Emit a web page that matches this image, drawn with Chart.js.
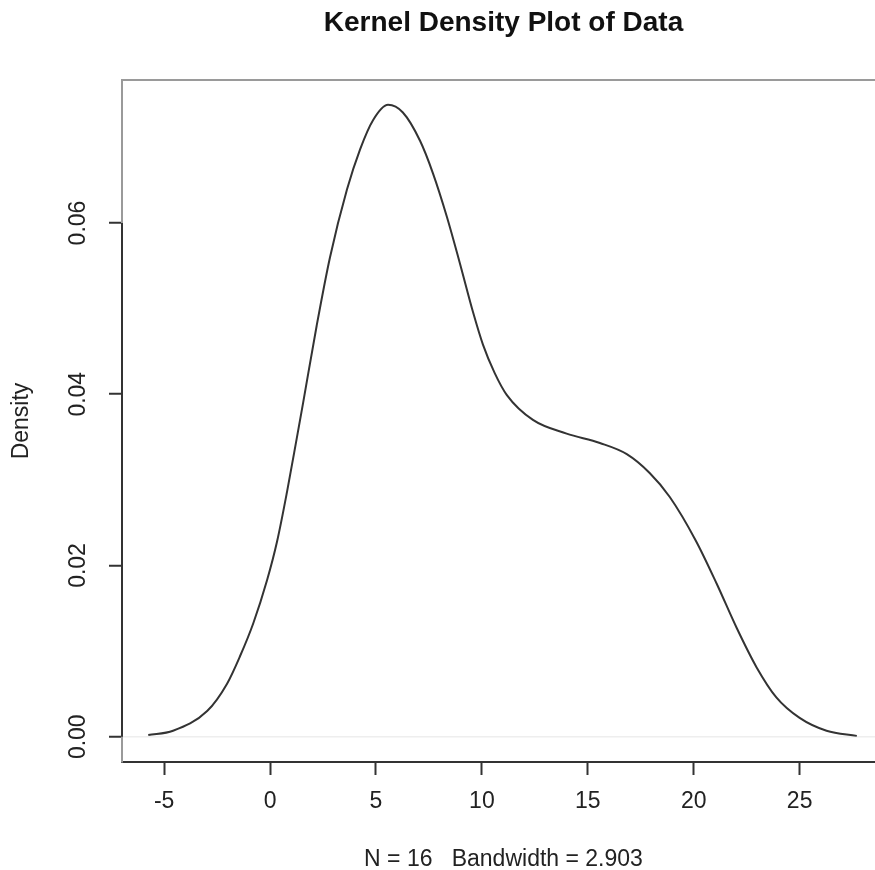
<!DOCTYPE html>
<html>
<head>
<meta charset="utf-8">
<title>Kernel Density Plot of Data</title>
<script src="https://cdn.jsdelivr.net/npm/chart.js@4/dist/chart.umd.min.js"></script>
<style>
  html, body { margin: 0; padding: 0; background: #fff; overflow: hidden; }
  #wrap { width: 875px; height: 870px; overflow: hidden; }
</style>
</head>
<body>
<div id="wrap"><canvas id="densityChart" width="1000" height="873"></canvas></div>
<script>
/////////////////////////////// DATA ///////////////////////////////
// curve
const densityX = [-5.75, -4.58, -2.97, -2.03, -1.42, -0.80, -0.14, 0.33, 0.80, 1.27, 1.56, 2.20, 2.83,
                  3.63, 4.25, 4.86, 5.57, 6.27, 7.08, 7.69, 8.35, 8.96, 9.58, 10.05, 10.6, 11.18, 12.41,
                  14.0, 15.57, 16.84, 17.92, 18.87, 20.1, 21.08, 22.03, 22.97, 23.9, 25.0, 26.27, 27.7];
const densityY = [0.0002, 0.0007, 0.0030, 0.0062, 0.0094, 0.0132, 0.0183, 0.0228, 0.0286, 0.0350, 0.0390, 0.0480, 0.0560,
                  0.0639, 0.0686, 0.0720, 0.0738, 0.0729, 0.0696, 0.0658, 0.0607, 0.0553, 0.0496, 0.0458, 0.0425, 0.0399, 0.0370,
                  0.0354, 0.0343, 0.0330, 0.0308, 0.0280, 0.0229, 0.0179, 0.0127, 0.0081, 0.0046, 0.0022, 0.0007, 0.0001];

const xTicks = [-5, 0, 5, 10, 15, 20, 25];
const yTicks = [0, 0.02, 0.04, 0.06];
const xRange = [-6.99, 29.03];
const yRange = [-0.00295, 0.0767];

const plotTitle = "Kernel Density Plot of Data";
const xLabel = "N = 16   Bandwidth = 2.903";
const yLabel = "Density";

/////////////////////////////// STYLE ///////////////////////////////
const fontFamily = '"Liberation Sans", Arial, Helvetica, sans-serif';
const labelSize = 23;
const inkColor = "#222";
const axisColor = "#333";
const boxColor = "#9a9a9a";

// box + title, R style
const rFrame = {
    id: "rFrame",
    afterDraw(chart) {
        const { ctx, chartArea: a, scales } = chart;
        ctx.save();
        ctx.lineWidth = 2;
        ctx.strokeStyle = boxColor;
        ctx.beginPath();
        ctx.moveTo(a.left, a.top);
        ctx.lineTo(a.right, a.top);
        ctx.lineTo(a.right, a.bottom);
        ctx.stroke();

        // y axis line runs from first to last tick
        ctx.strokeStyle = axisColor;
        ctx.beginPath();
        ctx.moveTo(a.left, scales.y.getPixelForValue(yTicks[0]));
        ctx.lineTo(a.left, scales.y.getPixelForValue(yTicks[yTicks.length - 1]));
        ctx.stroke();

        ctx.fillStyle = "#111";
        ctx.font = "bold 28px " + fontFamily;
        ctx.textAlign = "center";
        ctx.textBaseline = "middle";
        ctx.fillText(plotTitle, (a.left + a.right) / 2, 23);
        ctx.restore();
    }
};

/////////////////////////////// CREATE CHART ///////////////////////////////
const points = densityX.map((x, i) => ({ x: x, y: densityY[i] }));

const densityCtx = document.getElementById("densityChart").getContext("2d");
const densityChart = new Chart(densityCtx, {
    type: "line",
    data: {
        datasets: [{
            label: "density",
            data: points,
            borderColor: "#333",
            borderWidth: 2,
            pointRadius: 0,
            fill: false,
            cubicInterpolationMode: "monotone",
        }],
    },
    options: {
        responsive: false,
        animation: false,
        events: [],
        layout: { padding: { top: 80, right: 115, left: 0, bottom: 0 } },
        plugins: {
            legend: { display: false },
            tooltip: { enabled: false },
        },
        scales: {
            x: {
                type: "linear",
                min: xRange[0],
                max: xRange[1],
                afterBuildTicks: s => { s.ticks = xTicks.map(v => ({ value: v })); },
                afterFit: s => { s.height = 111; },
                grid: { display: true, drawOnChartArea: false, tickLength: 13, tickColor: axisColor, tickWidth: 2 },
                border: { display: true, color: axisColor, width: 2 },
                ticks: {
                    padding: 13,
                    color: inkColor,
                    font: { family: fontFamily, size: labelSize },
                    maxRotation: 0,
                    callback: v => String(v),
                },
                title: {
                    display: true,
                    text: xLabel,
                    color: inkColor,
                    font: { family: fontFamily, size: labelSize },
                    padding: { top: 0, bottom: 0 },
                },
            },
            y: {
                type: "linear",
                min: yRange[0],
                max: yRange[1],
                afterBuildTicks: s => { s.ticks = yTicks.map(v => ({ value: v })); },
                afterFit: s => { s.width = 122; },
                grid: {
                    display: true,
                    drawOnChartArea: true,
                    color: c => (c.tick && c.tick.value === 0 ? "#eeeeee" : "rgba(0,0,0,0)"),
                    lineWidth: 1.5,
                    tickLength: 13,
                    tickColor: axisColor,
                    tickWidth: 2,
                },
                border: { display: true, color: boxColor, width: 2 },
                ticks: {
                    padding: 8,
                    color: inkColor,
                    font: { family: fontFamily, size: labelSize },
                    minRotation: 90,
                    maxRotation: 90,
                    crossAlign: "center",
                    callback: v => v.toFixed(2),
                },
                title: {
                    display: true,
                    text: yLabel,
                    color: inkColor,
                    font: { family: fontFamily, size: labelSize },
                    padding: { top: 8, bottom: 0 },
                },
            },
        },
    },
    plugins: [rFrame],
});
</script>
</body>
</html>
